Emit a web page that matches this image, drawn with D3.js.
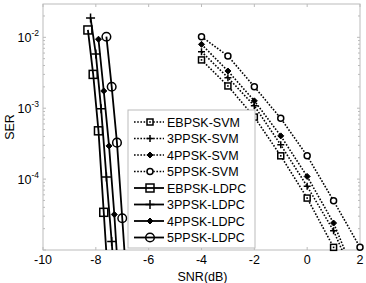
<!DOCTYPE html>
<html>
<head>
<meta charset="utf-8">
<script src="https://cdn.jsdelivr.net/npm/d3@7"></script>
<style>
  body { margin: 0; background: #fff; }
  svg { font-family: "Liberation Sans", Arial, sans-serif; }
</style>
</head>
<body>
<div id="chart"></div>
<script>
// SVM curves share the SNR grid
const svmSnr = [-4, -3, -2, -1, 0, 1, 2];
const ebpskSvmSer = [4.8e-3, 2.06e-3, 7.5e-4, 2.13e-4, 5.4e-5, 1.09e-5];
const ppsk3SvmSer = [6.27e-3, 2.7e-3, 1.08e-3, 3.04e-4, 7.9e-5, 1.87e-5, 2.6e-6];
const ppsk4SvmSer = [7.96e-3, 3.35e-3, 1.27e-3, 4.07e-4, 1.09e-4, 2.4e-5, 3e-6];
const ppsk5SvmSer = [1.02e-2, 5.46e-3, 2.01e-3, 7.2e-4, 2.13e-4, 4.94e-5, 1.09e-5];

// LDPC curves
const ebpskLdpcSnr = [-8.3, -8.1, -7.9, -7.7, -7.5];
const ebpskLdpcSer = [1.27e-2, 3.0e-3, 4.8e-4, 3.4e-5, 2.4e-6];
const ppsk3LdpcSnr = [-8.2, -8.0, -7.8, -7.6, -7.4, -7.2];
const ppsk3LdpcSer = [1.88e-2, 5.8e-3, 9.8e-4, 1.07e-4, 1.32e-5, 1.2e-6];
const ppsk4LdpcSnr = [-7.9, -7.7, -7.5, -7.3, -7.1];
const ppsk4LdpcSer = [9.4e-3, 1.75e-3, 2.94e-4, 3.17e-5, 2.2e-6];
const ppsk5LdpcSnr = [-7.6, -7.4, -7.2, -7.0, -6.8];
const ppsk5LdpcSer = [1.02e-2, 2.01e-3, 3.27e-4, 2.8e-5, 2.2e-6];

const xTicks = [-10, -8, -6, -4, -2, 0, 2];
const yTicks = [1e-2, 1e-3, 1e-4];
const legendLabels = ['EBPSK-SVM', '3PPSK-SVM', '4PPSK-SVM', '5PPSK-SVM',
                      'EBPSK-LDPC', '3PPSK-LDPC', '4PPSK-LDPC', '5PPSK-LDPC'];

const W = 366, H = 283;
const margin = { top: 4, right: 6, bottom: 33, left: 43 };
const w = W - margin.left - margin.right;
const h = H - margin.top - margin.bottom;

const series = [
  { label: legendLabels[0], snr: svmSnr, ser: ebpskSvmSer, marker: 'square', dotted: true },
  { label: legendLabels[1], snr: svmSnr, ser: ppsk3SvmSer, marker: 'plus', dotted: true },
  { label: legendLabels[2], snr: svmSnr, ser: ppsk4SvmSer, marker: 'diamond', dotted: true },
  { label: legendLabels[3], snr: svmSnr, ser: ppsk5SvmSer, marker: 'circle', dotted: true },
  { label: legendLabels[4], snr: ebpskLdpcSnr, ser: ebpskLdpcSer, marker: 'square', dotted: false },
  { label: legendLabels[5], snr: ppsk3LdpcSnr, ser: ppsk3LdpcSer, marker: 'plus', dotted: false },
  { label: legendLabels[6], snr: ppsk4LdpcSnr, ser: ppsk4LdpcSer, marker: 'diamond', dotted: false },
  { label: legendLabels[7], snr: ppsk5LdpcSnr, ser: ppsk5LdpcSer, marker: 'circle', dotted: false }
];

const x = d3.scaleLinear().domain([-10, 2]).range([0, w]);
const y = d3.scaleLog().domain([1e-5, Math.pow(10, -1.53)]).range([h, 0]);

const svg = d3.select('#chart').append('svg')
  .attr('width', W).attr('height', H);
svg.append('rect').attr('width', W).attr('height', H).attr('fill', '#fff');

const g = svg.append('g')
  .attr('transform', 'translate(' + margin.left + ',' + margin.top + ')');

g.append('defs').append('clipPath').attr('id', 'clip')
  .append('rect').attr('width', w).attr('height', h);

const axisColor = '#bbb';

// ticks (inside, on all four sides like matlab)
xTicks.forEach(function(t) {
  g.append('line').attr('x1', x(t)).attr('x2', x(t)).attr('y1', h).attr('y2', h - 3)
    .attr('stroke', axisColor);
  g.append('line').attr('x1', x(t)).attr('x2', x(t)).attr('y1', 0).attr('y2', 3)
    .attr('stroke', axisColor);
  g.append('text').attr('x', x(t)).attr('y', h + 14)
    .attr('text-anchor', 'middle').style('font-size', '12.5px').text(t);
});

// minor log ticks
const minor = [];
for (let e = -5; e <= -2; e++) {
  for (let m = 1; m <= 9; m++) {
    const v = m * Math.pow(10, e);
    if (v >= y.domain()[0] && v <= y.domain()[1]) minor.push({ v: v, major: m === 1 });
  }
}
minor.forEach(function(d) {
  const len = d.major ? 3 : 2;
  g.append('line').attr('x1', 0).attr('x2', len).attr('y1', y(d.v)).attr('y2', y(d.v))
    .attr('stroke', axisColor);
  g.append('line').attr('x1', w).attr('x2', w - len).attr('y1', y(d.v)).attr('y2', y(d.v))
    .attr('stroke', axisColor);
});

yTicks.forEach(function(t) {
  const txt = g.append('text').attr('x', -4).attr('y', y(t) + 5)
    .attr('text-anchor', 'end').style('font-size', '12.5px');
  txt.append('tspan').text('10');
  txt.append('tspan').attr('dy', -6).style('font-size', '8.5px')
    .text(Math.round(Math.log10(t)));
});

g.append('rect').attr('width', w).attr('height', h)
  .attr('fill', 'none').attr('stroke', axisColor);

// axis labels
svg.append('text').attr('x', margin.left + w / 2 + 1).attr('y', H - 2)
  .attr('text-anchor', 'middle').style('font-size', '12.5px').text('SNR(dB)');
svg.append('text')
  .attr('transform', 'translate(14,' + (margin.top + h / 2) + ')rotate(-90)')
  .attr('text-anchor', 'middle').style('font-size', '12.5px').text('SER');

// draws a marker at (cx, cy)
function drawMarker(sel, type, cx, cy, big) {
  const s = big ? 4 : 3;
  if (type === 'square') {
    sel.append('rect').attr('x', cx - s).attr('y', cy - s)
      .attr('width', 2 * s).attr('height', 2 * s)
      .attr('fill', big ? 'none' : '#fff').attr('stroke', '#000').attr('stroke-width', 1.5);
    if (!big) sel.append('rect').attr('x', cx - 0.8).attr('y', cy - 0.8)
      .attr('width', 1.6).attr('height', 1.6).attr('fill', '#000');
  } else if (type === 'circle') {
    sel.append('circle').attr('cx', cx).attr('cy', cy).attr('r', big ? 4.3 : 3)
      .attr('fill', big ? 'none' : '#fff').attr('stroke', '#000').attr('stroke-width', 1.5);
  } else if (type === 'plus') {
    const p = big ? 4.5 : 3.5;
    sel.append('path').attr('d', 'M' + (cx - p) + ',' + cy + 'H' + (cx + p) +
      'M' + cx + ',' + (cy - p) + 'V' + (cy + p))
      .attr('stroke', '#000').attr('stroke-width', 1.5);
  } else if (type === 'diamond') {
    const p = 3;
    sel.append('path').attr('d', 'M' + cx + ',' + (cy - p) + 'L' + (cx + p) + ',' + cy +
      'L' + cx + ',' + (cy + p) + 'L' + (cx - p) + ',' + cy + 'Z')
      .attr('fill', '#000').attr('stroke', '#000');
  }
}

const line = d3.line().x(function(d) { return x(d[0]); }).y(function(d) { return y(d[1]); });

const plot = g.append('g').attr('clip-path', 'url(#clip)');
const marks = g.append('g');

series.forEach(function(s) {
  const pts = s.ser.map(function(v, i) { return [s.snr[i], v]; });
  plot.append('path').datum(pts).attr('d', line)
    .attr('fill', 'none').attr('stroke', '#000')
    .attr('stroke-width', s.dotted ? 1.6 : 1.8)
    .attr('stroke-dasharray', s.dotted ? '1.6,1.6' : null);
});
series.forEach(function(s) {
  s.ser.forEach(function(v, i) {
    if (v < y.domain()[0]) return;
    drawMarker(marks, s.marker, x(s.snr[i]), y(v), !s.dotted);
  });
});

// legend
const lg = svg.append('g');
const lx = 128, ly = 110, lw = 127, lh = 138;
lg.append('rect').attr('x', lx).attr('y', ly).attr('width', lw).attr('height', lh)
  .attr('fill', '#fff').attr('stroke', axisColor);
series.forEach(function(s, i) {
  const ry = ly + 12 + i * 16.5;
  lg.append('line').attr('x1', lx + 6).attr('x2', lx + 36).attr('y1', ry).attr('y2', ry)
    .attr('stroke', '#000').attr('stroke-width', s.dotted ? 1.6 : 1.8)
    .attr('stroke-dasharray', s.dotted ? '1.6,1.6' : null);
  drawMarker(lg, s.marker, lx + 22, ry, !s.dotted);
  lg.append('text').attr('x', lx + 39).attr('y', ry + 4.5)
    .style('font-size', '12.5px').text(s.label);
});
</script>
</body>
</html>
